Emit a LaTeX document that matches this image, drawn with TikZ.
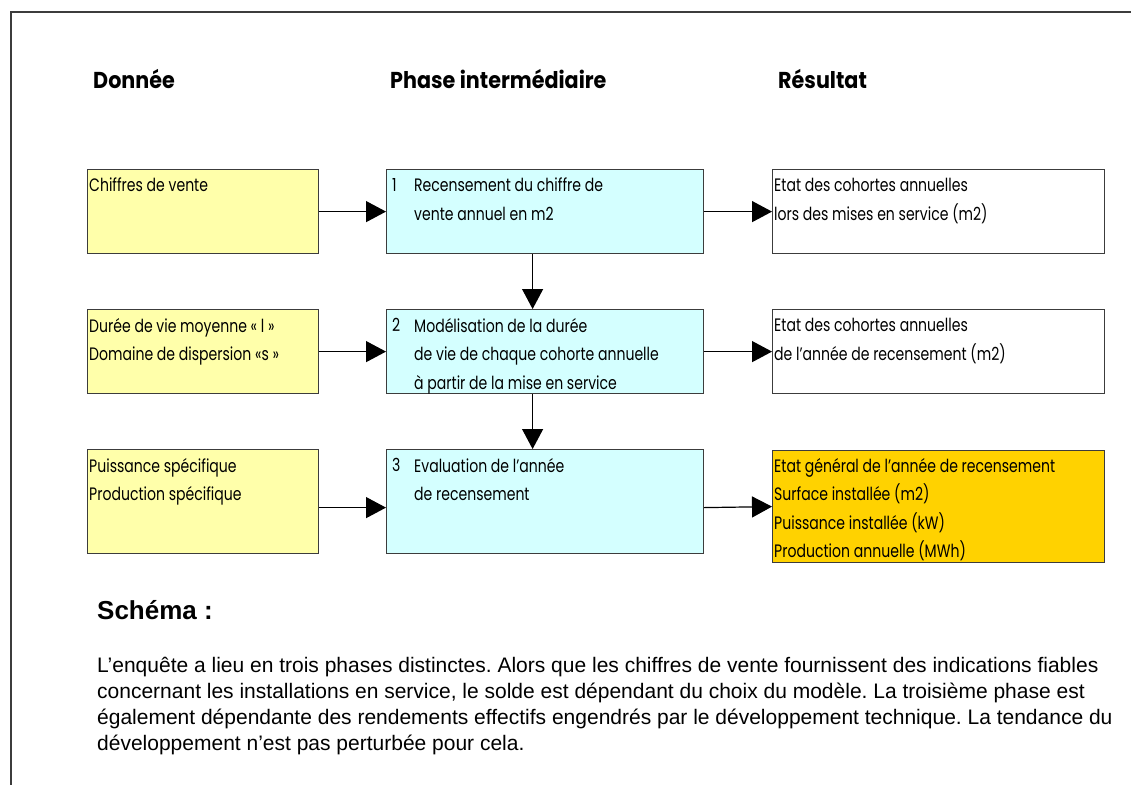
\documentclass[tikz,border=0pt]{standalone}
\usepackage{fontspec}
\setmainfont{Liberation Sans}
\newfontfamily\boxfont[FakeStretch=0.78]{Poppins}
\newfontfamily\headfont[FakeStretch=0.9]{Poppins}
\usetikzlibrary{arrows.meta}
\definecolor{ylw}{RGB}{255,255,170}
\definecolor{cyn}{RGB}{212,255,255}
\definecolor{org}{RGB}{255,210,0}
\definecolor{edge}{RGB}{60,60,60}
\tikzset{
  bx/.style={draw=edge, line width=1.2pt, rectangle, anchor=north west, inner sep=0pt},
  ybox/.style={bx, fill=ylw},
  cbox/.style={bx, fill=cyn},
  wbox/.style={bx, fill=white},
  obox/.style={bx, fill=org},
  lbl/.style={anchor=north west, inner sep=0pt, align=left, font=\boxfont\fontsize{18}{28.5}\selectfont},
  hdr/.style={anchor=base west, inner sep=0pt, font=\headfont\bfseries\fontsize{23}{26}\selectfont},
  arr/.style={line width=1.2pt, -{Triangle[length=20pt,width=21pt]}},
  frm/.style={draw=edge, line width=1.4pt}
}
\begin{document}
\frenchspacing
\begin{tikzpicture}[x=1pt,y=-1pt]
\useasboundingbox (0,0) rectangle (1131,785);
\coordinate (ftl) at (11,12);
\coordinate (ftr) at (1131,12);
\coordinate (fbl) at (11,785);
\draw[frm] (ftr) -- (ftl) -- (fbl);
% headers
\node[hdr] (h1) at (93,88) {Donnée};
\node[hdr] (h2) at (390,88) {Phase intermédiaire};
\node[hdr] (h3) at (778,88) {Résultat};
% row 1
\node[ybox, minimum width=231, minimum height=84] (y1) at (87,169) {};
\node[cbox, minimum width=317, minimum height=84] (c1) at (386,169) {};
\node[wbox, minimum width=332, minimum height=84] (w1) at (772,169) {};
% row 2
\node[ybox, minimum width=231, minimum height=84] (y2) at (87,309) {};
\node[cbox, minimum width=317, minimum height=84] (c2) at (386,309) {};
\node[wbox, minimum width=332, minimum height=84] (w2) at (772,309) {};
% row 3
\node[ybox, minimum width=231, minimum height=104] (y3) at (87,449) {};
\node[cbox, minimum width=317, minimum height=104] (c3) at (386,449) {};
\node[obox, minimum width=332, minimum height=112] (o3) at (772,450) {};
% labels
\node[lbl] (ty1) at (89,178) {Chiffres de vente};
\node[lbl] (ty2) at (89,318) {Durée de vie moyenne « l »\\Domaine de dispersion «s »};
\node[lbl] (ty3) at (89,458) {Puissance spécifique\\Production spécifique};
\node[lbl] (n1) at (392,178) {1};
\node[lbl] (tc1) at (414,178) {Recensement du chiffre de\\vente annuel en m2};
\node[lbl] (n2) at (392,318) {2};
\node[lbl] (tc2) at (414,318) {Modélisation de la durée\\de vie de chaque cohorte annuelle\\à partir de la mise en service};
\node[lbl] (n3) at (392,458) {3};
\node[lbl] (tc3) at (414,458) {Evaluation de l’année\\de recensement};
\node[lbl] (tw1) at (774,178) {Etat des cohortes annuelles\\lors des mises en service (m2)};
\node[lbl] (tw2) at (774,318) {Etat des cohortes annuelles\\de l’année de recensement (m2)};
\node[lbl] (to3) at (774,458) {Etat général de l’année de recensement\\Surface installée (m2)\\Puissance installée (kW)\\Production annuelle (MWh)};
% arrows
\draw[arr] (y1.east) -- (c1.west);
\draw[arr] (c1.east) -- (w1.west);
\draw[arr] (y2.east) -- (c2.west);
\draw[arr] (c2.east) -- (w2.west);
\draw[arr] ([yshift=-6]y3.east) -- ([yshift=-6]c3.west);
\draw[arr] ([yshift=-6]c3.east) -- (o3.west);
\draw[arr] ([xshift=-12.5]c1.south) -- ([xshift=-12.5]c2.north);
\draw[arr] ([xshift=-12.5]c2.south) -- ([xshift=-12.5]c3.north);
% caption
\node[anchor=base west, inner sep=0pt, font=\bfseries\fontsize{26}{30}\selectfont] (cap) at (97,619) {Schéma :};
\node[anchor=north west, inner sep=0pt, align=left, font=\fontsize{21}{26}\selectfont] (para) at (97,657)
{L’enquête a lieu en trois phases distinctes. Alors que les chiffres de vente fournissent des indications fiables\\
concernant les installations en service, le solde est dépendant du choix du modèle. La troisième phase est\\
également dépendante des rendements effectifs engendrés par le développement technique. La tendance du\\
développement n’est pas perturbée pour cela.};
\end{tikzpicture}
\end{document}
